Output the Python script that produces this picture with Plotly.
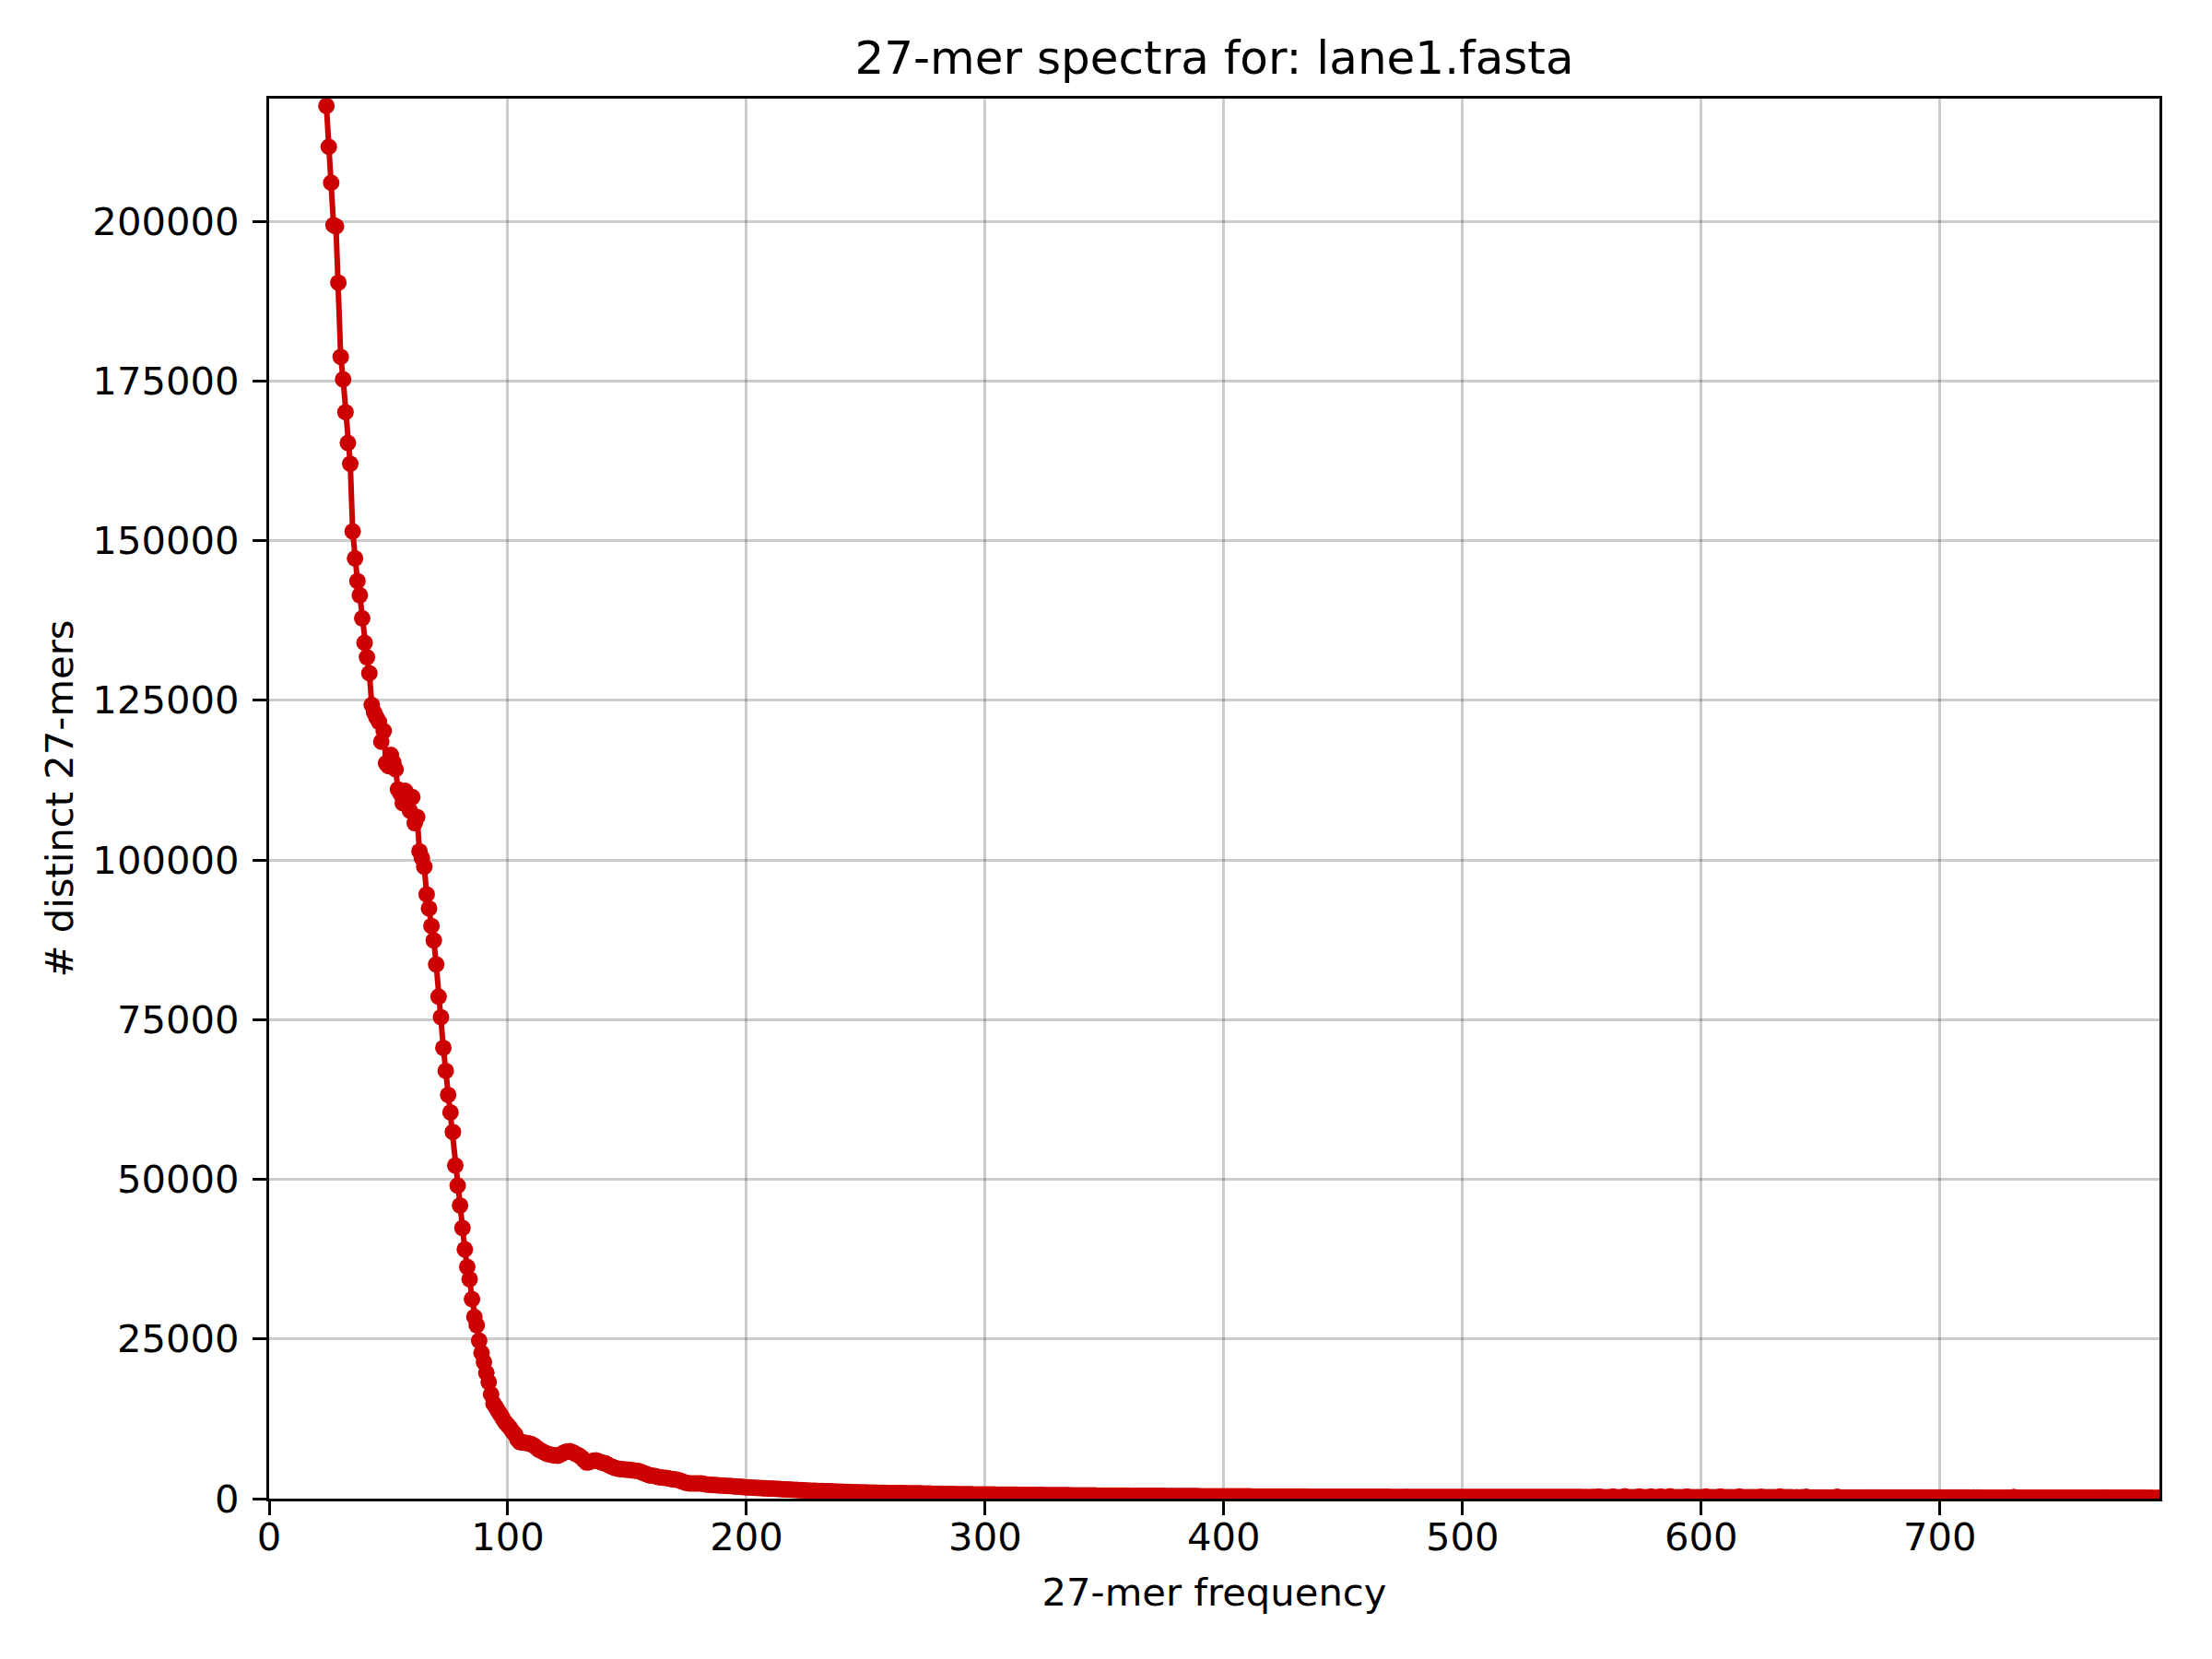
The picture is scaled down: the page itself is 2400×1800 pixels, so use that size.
import plotly.graph_objects as go

FONT = "DejaVu Sans, Arial, sans-serif"
RED = "#cc0000"

# distinct 27-mer counts, one value per frequency, starting at frequency 24
counts = [
    # 24-29
    218050, 211660, 206030, 199400, 199190, 190390,
    # 30-39
    178770, 175250, 170110, 165290, 162030, 151440, 147210, 143660, 141450, 137840,
    # 40-49
    133990, 131740, 129240, 124280, 123080, 122300, 121640, 118510, 120200, 115150,
    # 50-59
    114700, 116450, 115300, 114180, 111050, 110400, 108890, 110820, 110000, 107690,
    # 60-69
    109850, 105770, 106720, 101350, 100300, 98940, 94610, 92400, 89660, 87400,
    # 70-79
    83650, 78600, 75380, 70570, 66970, 63220, 60470, 57400, 52150, 49020,
    # 80-89
    45900, 42380, 39020, 36280, 34360, 31230, 28450, 27150, 24740, 22820,
    # 90-99
    21380, 19690, 18250, 16330, 14890, 14300, 13680, 13100, 12480, 11900,
    # 100-109
    11500, 11040, 10500, 10070, 9300, 8870, 8800, 8750, 8700, 8630,
    # 110-119
    8500, 8300, 8000, 7670, 7500, 7300, 7100, 6950, 6900, 6800,
    # 120-129
    6750, 6710, 6900, 7100, 7300, 7400, 7430, 7300, 7100, 6900,
    # 130-139
    6710, 6400, 6000, 5650, 5700, 5850, 5950, 5990, 5850, 5700,
    # 140-149
    5600, 5510, 5300, 5100, 4950, 4790, 4700, 4650, 4600, 4560,
    # 150-159
    4540, 4500, 4450, 4400, 4350, 4300, 4150, 4000, 3850, 3700,
    # 160-169
    3600, 3580, 3500, 3400, 3330, 3270, 3250, 3200, 3120, 3050,
    # 170-179
    2990, 2960, 2850, 2700, 2560, 2450, 2380, 2380, 2390, 2370,
    # 180-189
    2380, 2380, 2320, 2250, 2200, 2160, 2140, 2120, 2090, 2060,
    # 190-199
    2040, 2020, 2000, 1990, 1960, 1930, 1900, 1860, 1830, 1800,
    # 200-209
    1770, 1750, 1730, 1710, 1690, 1670, 1660, 1640, 1620, 1600,
    # 210-219
    1580, 1560, 1540, 1520, 1500, 1480, 1460, 1440, 1420, 1400,
    # 220-229
    1380, 1360, 1340, 1320, 1300, 1280, 1260, 1240, 1230, 1220,
    # 230-239
    1200, 1190, 1180, 1160, 1150, 1140, 1120, 1110, 1100, 1080,
    # 240-249
    1070, 1060, 1050, 1040, 1020, 1010, 1000, 990, 980, 970,
    # 250-259
    960, 950, 940, 930, 920, 915, 905, 895, 890, 880,
    # 260-269
    875, 870, 865, 860, 855, 850, 848, 845, 842, 840,
    # 270-279
    838, 830, 822, 815, 808, 800, 790, 782, 775, 768,
    # 280-289
    760, 752, 745, 738, 730, 722, 715, 708, 700, 694,
    # 290-299
    688, 682, 678, 674, 670, 667, 664, 660, 657, 654,
    # 300-309
    650, 646, 642, 638, 634, 630, 626, 622, 618, 614,
    # 310-319
    610, 606, 602, 598, 594, 590, 587, 584, 580, 577,
    # 320-329
    574, 570, 567, 564, 560, 557, 554, 550, 547, 544,
    # 330-339
    540, 537, 534, 530, 527, 524, 520, 517, 514, 510,
    # 340-349
    507, 504, 500, 497, 494, 490, 488, 485, 482, 480,
    # 350-359
    477, 475, 472, 470, 467, 465, 462, 460, 457, 455,
    # 360-369
    452, 450, 447, 445, 442, 440, 437, 435, 432, 430,
    # 370-379
    427, 425, 422, 420, 417, 415, 412, 410, 407, 405,
    # 380-389
    402, 400, 397, 395, 392, 390, 387, 385, 382, 380,
    # 390-399
    378, 376, 374, 372, 370, 368, 366, 364, 362, 361,
    # 400-409
    360, 359, 357, 356, 354, 353, 351, 350, 348, 347,
    # 410-419
    345, 344, 342, 341, 339, 338, 336, 335, 333, 332,
    # 420-429
    330, 329, 327, 326, 324, 323, 321, 320, 318, 317,
    # 430-439
    315, 314, 312, 311, 309, 308, 306, 305, 303, 302,
    # 440-449
    300, 299, 298, 297, 296, 295, 294, 293, 292, 291,
    # 450-459
    290, 289, 288, 287, 286, 285, 284, 283, 282, 281,
    # 460-469
    280, 279, 278, 277, 276, 275, 274, 273, 272, 271,
    # 470-479
    270, 269, 268, 268, 267, 267, 266, 266, 265, 265,
    # 480-489
    264, 264, 263, 263, 262, 262, 262, 261, 261, 261,
    # 490-499
    260, 260, 260, 260, 260, 260, 260, 260, 260, 260,
    # 500-509
    258, 262, 255, 260, 257, 254, 259, 256, 252, 255,
    # 510-519
    253, 257, 250, 254, 251, 248, 253, 250, 247, 251,
    # 520-529
    249, 246, 250, 247, 244, 248, 245, 249, 243, 246,
    # 530-539
    244, 241, 245, 242, 246, 240, 243, 239, 244, 241,
    # 540-549
    238, 242, 239, 236, 240, 237, 241, 235, 238, 236,
    # 550-559
    239, 234, 237, 233, 236, 238, 232, 330, 235, 231,
    # 560-569
    234, 230, 233, 340, 229, 232, 228, 231, 350, 230,
    # 570-579
    227, 229, 226, 230, 330, 228, 225, 227, 224, 340,
    # 580-589
    226, 223, 225, 320, 222, 224, 221, 350, 223, 220,
    # 590-599
    222, 219, 221, 218, 330, 220, 217, 219, 216, 218,
    # 600-609
    215, 217, 310, 214, 216, 213, 215, 212, 320, 214,
    # 610-619
    211, 213, 210, 212, 209, 211, 310, 208, 210, 207,
    # 620-629
    209, 206, 208, 205, 207, 300, 204, 206, 203, 205,
    # 630-639
    202, 204, 201, 320, 203, 200, 202, 199, 201, 198,
    # 640-649
    200, 197, 199, 196, 300, 198, 195, 197, 194, 196,
    # 650-659
    193, 195, 192, 194, 191, 193, 190, 290, 192, 189,
    # 660-669
    191, 188, 190, 187, 189, 186, 188, 185, 187, 184,
    # 670-679
    186, 183, 185, 182, 184, 181, 183, 180, 182, 179,
    # 680-689
    181, 178, 180, 177, 179, 176, 178, 175, 177, 174,
    # 690-699
    176, 173, 175, 172, 174, 171, 173, 170, 172, 169,
    # 700-709
    171, 168, 170, 167, 169, 166, 168, 165, 167, 164,
    # 710-719
    166, 163, 165, 162, 164, 161, 163, 160, 162, 159,
    # 720-729
    161, 158, 160, 157, 159, 156, 158, 155, 157, 154,
    # 730-739
    156, 260, 155, 153, 154, 152, 153, 151, 152, 150,
    # 740-749
    151, 149, 150, 148, 149, 147, 148, 146, 147, 145,
    # 750-759
    146, 144, 145, 143, 144, 142, 143, 141, 142, 140,
    # 760-769
    141, 139, 140, 138, 139, 137, 138, 136, 137, 135,
    # 770-779
    136, 134, 135, 133, 134, 132, 133, 131, 132, 130,
    # 780-789
    131, 129, 130, 128, 129, 127, 128, 126, 127, 125,
    # 790-792
    126, 124, 125,
]
FIRST_FREQ = 24
freq = list(range(FIRST_FREQ, FIRST_FREQ + len(counts)))

x_ticks = [0, 100, 200, 300, 400, 500, 600, 700]
y_ticks = [0, 25000, 50000, 75000, 100000, 125000, 150000, 175000, 200000]
X_MAX = 792
Y_MAX = 219200

fig = go.Figure()
fig.add_trace(go.Scatter(
    x=freq,
    y=counts,
    mode="lines+markers",
    line=dict(color=RED, width=6),
    marker=dict(color=RED, size=18),
    showlegend=False,
))

axis_style = dict(
    showline=True,
    linecolor="black",
    linewidth=3.3,
    mirror=True,
    ticks="outside",
    ticklen=15,
    tickwidth=3.3,
    tickcolor="black",
    showgrid=True,
    gridcolor="rgba(0,0,0,0.2)",
    gridwidth=3,
    zeroline=False,
    tickfont=dict(family=FONT, size=41.7, color="black"),
)

# the page body adds an 8px offset, so margins are shifted accordingly
fig.update_layout(
    width=2400,
    height=1800,
    paper_bgcolor="white",
    plot_bgcolor="white",
    font=dict(family=FONT, size=41.7, color="black"),
    margin=dict(l=284, r=65, t=99, b=182),
    title=dict(
        text="27-mer spectra for: lane1.fasta",
        x=0.5, xref="paper", xanchor="center",
        y=1 - 54 / 1800, yref="container", yanchor="middle",
        font=dict(family=FONT, size=50, color="black"),
    ),
)
fig.update_xaxes(
    **axis_style,
    range=[0, X_MAX],
    tickvals=x_ticks,
    ticktext=[str(v) for v in x_ticks],
    ticklabelstandoff=-12,
    title=dict(text="27-mer frequency", font=dict(family=FONT, size=41.7), standoff=22),
)
fig.update_yaxes(
    **axis_style,
    range=[0, Y_MAX],
    tickvals=y_ticks,
    ticktext=[str(v) for v in y_ticks],
    ticklabelstandoff=6,
    title=dict(text="# distinct 27-mers", font=dict(family=FONT, size=41.7), standoff=8),
)

fig.write_html("out.html")
